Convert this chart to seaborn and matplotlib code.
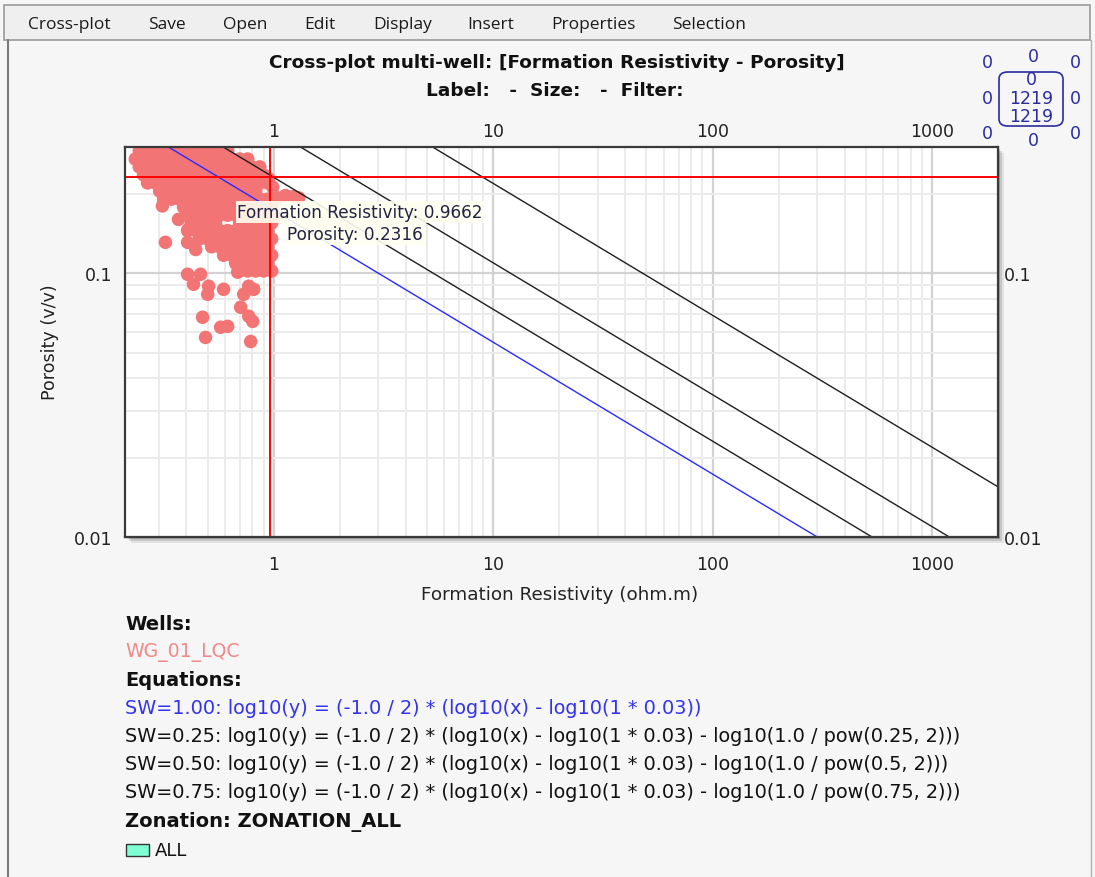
import numpy as np
import pandas as pd
import matplotlib
matplotlib.use("Agg")
import matplotlib.pyplot as plt
import seaborn as sns
from matplotlib.patches import Rectangle, FancyBboxPatch
from matplotlib.lines import Line2D
from matplotlib.ticker import FixedLocator, NullFormatter, FixedFormatter

# ---------------- data ----------------
x_major = [1, 10, 100, 1000]
x_major_labels = ["1", "10", "100", "1000"]
y_major = [0.01, 0.1]
y_major_labels = ["0.01", "0.1"]

# dense cloud, row by row (porosity of row -> resistivity values in row)
row_porosity = [0.291, 0.271, 0.253, 0.236, 0.220, 0.205, 0.191, 0.178,
                0.166, 0.155, 0.145, 0.135, 0.126, 0.117, 0.109, 0.102]
row_resistivity = [
    [0.244, 0.266, 0.289, 0.315, 0.342, 0.372, 0.405, 0.441, 0.479, 0.521, 0.567, 0.617],
    [0.234, 0.255, 0.277, 0.302, 0.328, 0.357, 0.388, 0.422, 0.459, 0.500, 0.543, 0.591, 0.643, 0.700, 0.761],
    [0.244, 0.266, 0.289, 0.315, 0.342, 0.372, 0.405, 0.441, 0.479, 0.521, 0.567, 0.617, 0.671, 0.730, 0.794, 0.864],
    [0.255, 0.277, 0.302, 0.328, 0.357, 0.388, 0.422, 0.459, 0.500, 0.543, 0.591, 0.643, 0.700, 0.761, 0.828, 0.900],
    [0.266, 0.289, 0.315, 0.342, 0.372, 0.405, 0.441, 0.479, 0.521, 0.567, 0.617, 0.671, 0.730, 0.794, 0.864, 0.940],
    [0.302, 0.328, 0.357, 0.388, 0.422, 0.459, 0.500, 0.543, 0.591, 0.643, 0.700, 0.761, 0.828],
    [0.315, 0.342, 0.372, 0.405, 0.441, 0.479, 0.521, 0.567, 0.617, 0.671, 0.730, 0.794, 0.864, 0.940],
    [0.388, 0.422, 0.459, 0.500, 0.543, 0.591, 0.643, 0.700, 0.761, 0.828, 0.900, 0.979],
    [0.405, 0.441, 0.479, 0.521, 0.567, 0.617, 0.671, 0.730, 0.794, 0.864, 0.940, 1.02],
    [0.422, 0.459, 0.500, 0.543, 0.700, 0.761, 0.828, 0.900, 0.979],
    [0.405, 0.441, 0.479, 0.521, 0.567, 0.617, 0.671, 0.730, 0.794, 0.864, 0.940],
    [0.459, 0.500, 0.543, 0.591, 0.643, 0.700, 0.761, 0.828, 0.900, 0.979],
    [0.521, 0.567, 0.617, 0.671, 0.730, 0.794, 0.864, 0.940],
    [0.591, 0.643, 0.700, 0.761, 0.828, 0.900, 0.979],
    [0.671, 0.730, 0.794, 0.864, 0.940],
    [0.700, 0.761, 0.828, 0.900, 0.979],
]
# scattered points around the cloud
iso_resistivity = [0.405, 0.464, 0.431, 0.505, 0.500, 0.591, 0.685, 0.769, 0.811, 0.730,
                   0.707, 0.769, 0.802, 0.474, 0.573, 0.617, 0.489, 0.785,
                   0.321, 0.311, 0.368, 0.405, 0.441, 0.409,
                   1.04, 1.13, 1.22, 1.30, 0.99, 0.949]
iso_porosity = [0.0991, 0.0991, 0.0908, 0.0893, 0.0832, 0.0869, 0.1009, 0.0893, 0.0869, 0.0832,
                0.0743, 0.0687, 0.0657, 0.0681, 0.0624, 0.0629, 0.0571, 0.0551,
                0.131, 0.180, 0.160, 0.131, 0.123, 0.147,
                0.193, 0.197, 0.195, 0.193, 0.212, 0.228]

# Archie lines
sw_values = [1.00, 0.25, 0.50, 0.75]
sw_colors = ["#2a2aff", "#1e1e1e", "#1e1e1e", "#1e1e1e"]
a_coef, rw, m_exp, n_exp = 1.0, 0.03, 2.0, 2.0
phi_range = [0.01, 0.3]

cross_resistivity = 0.9662
cross_porosity = 0.2316

menu_items = ["Cross-plot", "Save", "Open", "Edit", "Display", "Insert", "Properties", "Selection"]
menu_x = [69, 167, 245, 320, 403, 491, 593, 709]

equations = [
    "SW=1.00: log10(y) = (-1.0 / 2) * (log10(x) - log10(1 * 0.03))",
    "SW=0.25: log10(y) = (-1.0 / 2) * (log10(x) - log10(1 * 0.03) - log10(1.0 / pow(0.25, 2)))",
    "SW=0.50: log10(y) = (-1.0 / 2) * (log10(x) - log10(1 * 0.03) - log10(1.0 / pow(0.5, 2)))",
    "SW=0.75: log10(y) = (-1.0 / 2) * (log10(x) - log10(1 * 0.03) - log10(1.0 / pow(0.75, 2)))",
]
eq_colors = ["#3333ee", "#111111", "#111111", "#111111"]

# ---------------- build frames ----------------
pts_x, pts_y = [], []
for p, row in zip(row_porosity, row_resistivity):
    pts_x += row
    pts_y += [p] * len(row)
pts_x += iso_resistivity
pts_y += iso_porosity
df_pts = pd.DataFrame({"Formation Resistivity": pts_x, "Porosity": pts_y})

line_rows = []
for sw in sw_values:
    for phi in phi_range:
        rt = a_coef * rw / (phi ** m_exp * sw ** n_exp)
        line_rows.append({"SW": f"{sw:.2f}", "Rt": rt, "Phi": phi})
df_lines = pd.DataFrame(line_rows)

# ---------------- figure ----------------
sns.set_theme(style="white")
plt.rcParams['font.family'] = ['DejaVu Sans']

W, H = 1095, 878
fig = plt.figure(figsize=(W / 100, H / 100), dpi=100, facecolor="#f6f6f6")

def fx(px):
    return px / W

def fy(py):
    return 1 - py / H

# window chrome
fig.patches.append(Rectangle((fx(4), fy(41)), fx(1090) - fx(4), fy(6) - fy(41),
                             transform=fig.transFigure, facecolor="#efefef",
                             edgecolor="#9a9a9a", lw=1.2, zorder=0))
fig.add_artist(Line2D([fx(8), fx(8)], [fy(41), fy(878)], transform=fig.transFigure,
                      color="#7a7a7a", lw=1.5))
fig.add_artist(Line2D([fx(1091), fx(1091)], [fy(41), fy(878)], transform=fig.transFigure,
                      color="#b0b0b0", lw=1.0))
for name, mx in zip(menu_items, menu_x):
    fig.text(fx(mx), fy(25), name, ha="center", va="center", fontsize=12.5,
             family="Open Sans", color="#1a1a1a")

# titles
fig.text(fx(557), fy(63), "Cross-plot multi-well: [Formation Resistivity - Porosity]",
         ha="center", va="center", fontsize=13.3, fontweight="bold", color="#111111")
fig.text(fx(555), fy(91), "Label:   -  Size:   -  Filter:",
         ha="center", va="center", fontsize=13.3, fontweight="bold", color="#111111")

# counter box
cnt_color = "#2b2ba0"
fig.patches.append(FancyBboxPatch((fx(999), fy(127)), fx(1063) - fx(999), fy(73) - fy(127),
                                  boxstyle="round,pad=0,rounding_size=0.008",
                                  transform=fig.transFigure, facecolor="none",
                                  edgecolor=cnt_color, lw=1.2))
for (px, py, t) in [(1033, 57, "0"), (987, 63, "0"), (1075, 63, "0"),
                    (1031, 80, "0"), (1031, 99, "1219"), (1031, 117, "1219"),
                    (987, 99, "0"), (1075, 99, "0"),
                    (987, 134, "0"), (1033, 141, "0"), (1075, 134, "0")]:
    fig.text(fx(px), fy(py), t, ha="center", va="center", fontsize=12.5, color=cnt_color)

# plot area shadow
ax_l, ax_r, ax_t, ax_b = 125, 998, 148, 538
for off, alpha in [(6, 0.08), (4, 0.12), (2, 0.18)]:
    fig.patches.append(Rectangle((fx(ax_l + off), fy(ax_b + off)), fx(ax_r) - fx(ax_l),
                                 fy(ax_t) - fy(ax_b), transform=fig.transFigure,
                                 facecolor="black", alpha=alpha, edgecolor="none", zorder=0.5))

ax = fig.add_axes([fx(ax_l), fy(ax_b), fx(ax_r) - fx(ax_l), fy(ax_t) - fy(ax_b)])
ax.set_zorder(3)
ax.set_facecolor("white")
ax.set_xscale("log")
ax.set_yscale("log")

sns.scatterplot(data=df_pts, x="Formation Resistivity", y="Porosity", ax=ax,
                color="#f27474", s=95, edgecolor="none", linewidth=0, zorder=3,
                legend=False)
sns.lineplot(data=df_lines, x="Rt", y="Phi", hue="SW", ax=ax,
             palette=dict(zip([f"{s:.2f}" for s in sw_values], sw_colors)),
             lw=1.0, legend=False, zorder=4, sort=False, estimator=None)

ax.axvline(cross_resistivity, color="#ff0000", lw=1.4, zorder=5)
ax.axhline(cross_porosity, color="#ff0000", lw=1.4, zorder=5)

ax.set_xlim(0.21, 2000)
ax.set_ylim(0.01, 0.301)

# grids
x_minor = [m * 10.0 ** e for e in range(-1, 4) for m in range(2, 10)]
y_minor = [m * 10.0 ** e for e in range(-2, 0) for m in range(2, 10)]
ax.xaxis.set_major_locator(FixedLocator(x_major))
ax.yaxis.set_major_locator(FixedLocator(y_major))
ax.xaxis.set_minor_locator(FixedLocator(x_minor))
ax.yaxis.set_minor_locator(FixedLocator(y_minor))
ax.xaxis.set_minor_formatter(NullFormatter())
ax.yaxis.set_minor_formatter(NullFormatter())
ax.grid(True, which="major", color="#d2d2d2", lw=1.6, zorder=0)
ax.grid(True, which="minor", color="#ebebeb", lw=1.4, zorder=0)
ax.set_axisbelow(True)

ax.xaxis.set_major_formatter(FixedFormatter(x_major_labels))
ax.yaxis.set_major_formatter(FixedFormatter(y_major_labels))
ax.tick_params(axis="both", which="both", length=0, labelsize=12.5, colors="#222222")
ax.tick_params(axis="x", pad=13)
ax.tick_params(axis="y", pad=9)

secx = ax.secondary_xaxis("top")
secx.xaxis.set_major_locator(FixedLocator(x_major))
secx.xaxis.set_major_formatter(FixedFormatter(x_major_labels))
secx.xaxis.set_minor_locator(FixedLocator([]))
secx.tick_params(length=0, labelsize=12.5, colors="#222222", pad=5)
secx.spines["top"].set_visible(False)
secy = ax.secondary_yaxis("right")
secy.yaxis.set_major_locator(FixedLocator(y_major))
secy.yaxis.set_major_formatter(FixedFormatter(y_major_labels))
secy.yaxis.set_minor_locator(FixedLocator([]))
secy.tick_params(length=0, labelsize=12.5, colors="#222222", pad=4)
secy.spines["right"].set_visible(False)

for s in ax.spines.values():
    s.set_color("#3a3a3a")
    s.set_linewidth(1.6)
    s.set_zorder(6)

ax.set_xlabel("")
ax.set_ylabel("")
fig.text(fx(560), fy(595), "Formation Resistivity (ohm.m)", ha="center", va="center",
         fontsize=13.2, color="#222222")
fig.text(fx(50), fy(342), "Porosity (v/v)", ha="center", va="center", rotation=90,
         fontsize=12.6, color="#222222")

# tooltip
tip = dict(boxstyle="square,pad=0.1", facecolor="#fffff0", edgecolor="none", alpha=0.9)
ax.annotate(f"Formation Resistivity: {cross_resistivity:.4f}", xy=(cross_resistivity, cross_porosity),
            xytext=(fx(360), fy(213)), textcoords="figure fraction", ha="center", va="center",
            fontsize=12.2, color="#222244", bbox=tip, zorder=7)
ax.annotate(f"Porosity: {cross_porosity:.4f}", xy=(cross_resistivity, cross_porosity),
            xytext=(fx(355), fy(235)), textcoords="figure fraction", ha="center", va="center",
            fontsize=12.2, color="#222244", bbox=tip, zorder=7)

# legend text block
fig.text(fx(125), fy(625), "Wells:", ha="left", va="center", fontsize=14, fontweight="bold", color="#111111")
fig.text(fx(125), fy(652), "WG_01_LQC", ha="left", va="center", fontsize=13.6, color="#f08a8a")
fig.text(fx(125), fy(681), "Equations:", ha="left", va="center", fontsize=14, fontweight="bold", color="#111111")
for i, (eq, c) in enumerate(zip(equations, eq_colors)):
    fig.text(fx(125), fy(709 + 28 * i), eq, ha="left", va="center", fontsize=13.9, color=c)
fig.text(fx(125), fy(822), "Zonation: ZONATION_ALL", ha="left", va="center", fontsize=14,
         fontweight="bold", color="#111111")
fig.patches.append(Rectangle((fx(126), fy(857)), fx(149) - fx(126), fy(845) - fy(857),
                             transform=fig.transFigure, facecolor="#7fffd4",
                             edgecolor="#333333", lw=1))
fig.text(fx(155), fy(851), "ALL", ha="left", va="center", fontsize=13, color="#111111")

fig.savefig("out.png", dpi=100, facecolor=fig.get_facecolor())
